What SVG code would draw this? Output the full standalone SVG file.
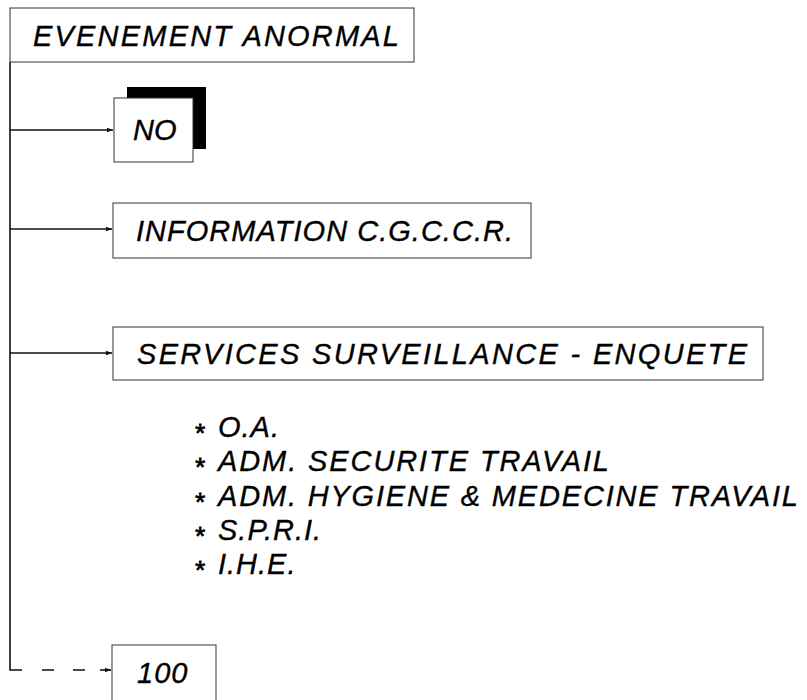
<svg xmlns="http://www.w3.org/2000/svg" width="807" height="700" viewBox="0 0 807 700">
<defs>
<marker id="ah" markerWidth="7" markerHeight="6" refX="6" refY="3" orient="auto" markerUnits="userSpaceOnUse">
<path d="M0,0.8 L6,3 L0,5.2 Z" fill="#111"/>
</marker>
<style>
.box{fill:#fff;stroke:#333;stroke-width:1}
.t{font-family:"Liberation Sans",Arial,sans-serif;font-style:italic;font-size:29px;fill:#000;stroke:#000;stroke-width:0.35}
.conn{fill:none;stroke:#111;stroke-width:1.6}
.star{font-size:26px;stroke-width:0.8}
</style>
</defs>
<rect width="807" height="700" fill="#fff"/>

<g id="connectors">
<path class="conn" d="M10,62 V670 H22"/>
<path class="conn" d="M10,130 H113" marker-end="url(#ah)"/>
<path class="conn" d="M10,229 H112" marker-end="url(#ah)"/>
<path class="conn" d="M10,353 H112" marker-end="url(#ah)"/>
<path class="conn" d="M42,670 H54 M73,670 H85"/>
<path class="conn" d="M100,670 H111" marker-end="url(#ah)"/>
</g>

<g id="evenement">
<rect class="box" x="10" y="8" width="404" height="54"/>
<text class="t" x="33" y="46" textLength="366" lengthAdjust="spacing">EVENEMENT ANORMAL</text>
</g>

<g id="no">
<rect x="127" y="87" width="79" height="62" fill="#000"/>
<rect class="box" x="114" y="98" width="79" height="64"/>
<text class="t" x="133" y="140">NO</text>
</g>

<g id="information">
<rect class="box" x="113" y="203" width="418" height="55"/>
<text class="t" x="136" y="241" textLength="377" lengthAdjust="spacing">INFORMATION C.G.C.C.R.</text>
</g>

<g id="services">
<rect class="box" x="113" y="327" width="650" height="53"/>
<text class="t" x="137" y="364" textLength="610" lengthAdjust="spacing">SERVICES SURVEILLANCE - ENQUETE</text>
</g>

<g id="list">
<text class="t" y="437"><tspan class="star" x="194" dy="5">* </tspan><tspan x="218" dy="-5" letter-spacing="1">O.A.</tspan></text>
<text class="t" y="471"><tspan class="star" x="194" dy="5">* </tspan><tspan x="218" dy="-5" textLength="391" lengthAdjust="spacing">ADM. SECURITE TRAVAIL</tspan></text>
<text class="t" y="506"><tspan class="star" x="194" dy="5">* </tspan><tspan x="218" dy="-5" textLength="580" lengthAdjust="spacing">ADM. HYGIENE &amp; MEDECINE TRAVAIL</tspan></text>
<text class="t" y="540"><tspan class="star" x="194" dy="5">* </tspan><tspan x="218" dy="-5" letter-spacing="1">S.P.R.I.</tspan></text>
<text class="t" y="574"><tspan class="star" x="194" dy="5">* </tspan><tspan x="218" dy="-5" letter-spacing="1">I.H.E.</tspan></text>
</g>

<g id="n100">
<rect class="box" x="112" y="645" width="104" height="70"/>
<text class="t" x="137" y="683" letter-spacing="1">100</text>
</g>
</svg>
